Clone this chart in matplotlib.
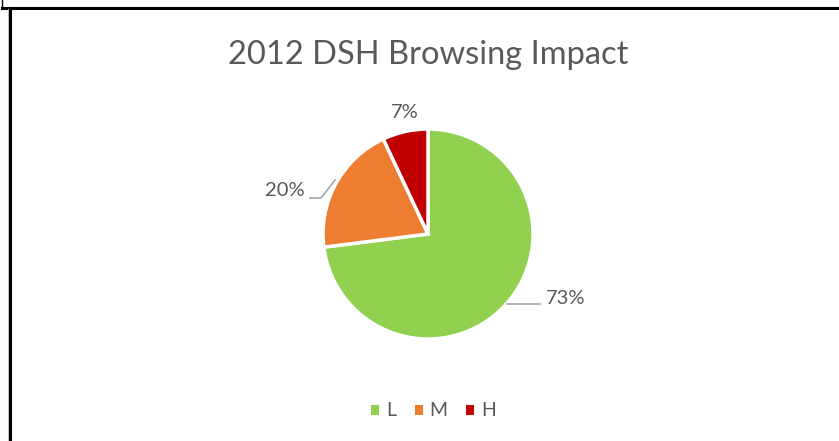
import matplotlib.pyplot as plt
from matplotlib.lines import Line2D
from matplotlib.patches import Patch

# Data
categories = ['L', 'M', 'H']
shares = [73, 20, 7]
colors = ['#92D050', '#ED7D31', '#C00000']
title = '2012 DSH Browsing Impact'

W, H = 839, 441
plt.rcParams['font.family'] = ['Lato', 'DejaVu Sans']
grey_text = '#595959'

fig = plt.figure(figsize=(W / 100, H / 100), dpi=100)
fig.patch.set_facecolor('white')

# pie axes: centre (428, 234) px from top, radius 105 px
cx, cy, r = 428, 234, 105
side = 320
ax = fig.add_axes([(cx - side / 2) / W, (H - cy - side / 2) / H, side / W, side / H])
lim = side / 2 / r
ax.axis('off')

wedges, _ = ax.pie(shares, colors=colors, startangle=90, counterclock=False,
                   radius=1, wedgeprops=dict(edgecolor='white', linewidth=2.5))
ax.set_xlim(-lim, lim)
ax.set_ylim(-lim, lim)
ax.set_aspect('equal')

# data labels and leader lines
label_pos = [(1.31, -0.61), (-1.36, 0.41), (-0.22, 1.16)]
for val, (x, y) in zip(shares, label_pos):
    ax.text(x, y, f'{val}%', ha='center', va='center', fontsize=14.5, color=grey_text)

ax.plot([0.752, 1.067], [-0.667, -0.667], color='#A6A6A6', lw=1.2, clip_on=False)
ax.plot([-1.124, -1.019, -0.886], [0.343, 0.343, 0.514], color='#A6A6A6', lw=1.2,
        clip_on=False)

fig.text(cx / W, 1 - 55 / H, title, ha='center', va='center', fontsize=23.5,
         color=grey_text)

handles = [Patch(facecolor=c, edgecolor='none', label=l) for c, l in zip(colors, categories)]
fig.legend(handles=handles, loc='center', bbox_to_anchor=(433.5 / W, 1 - 411 / H), ncol=3,
           frameon=False, fontsize=14, handlelength=0.42, handleheight=0.42,
           handletextpad=0.35, columnspacing=0.95, labelcolor=grey_text,
           borderpad=0, borderaxespad=0)

# cell border lines
def px_line(xs, ys, **kw):
    fig.add_artist(Line2D([x / W for x in xs], [1 - y / H for y in ys],
                          transform=fig.transFigure, **kw))

px_line([2, W], [7.5, 7.5], color='black', lw=2.2)
px_line([2, 2], [0, 8], color='black', lw=1)
px_line([8, 8], [9, H], color='#BFBFBF', lw=0.8)
px_line([9.8, 9.8], [8, H], color='black', lw=2.2)

fig.savefig('out.png', dpi=100)
